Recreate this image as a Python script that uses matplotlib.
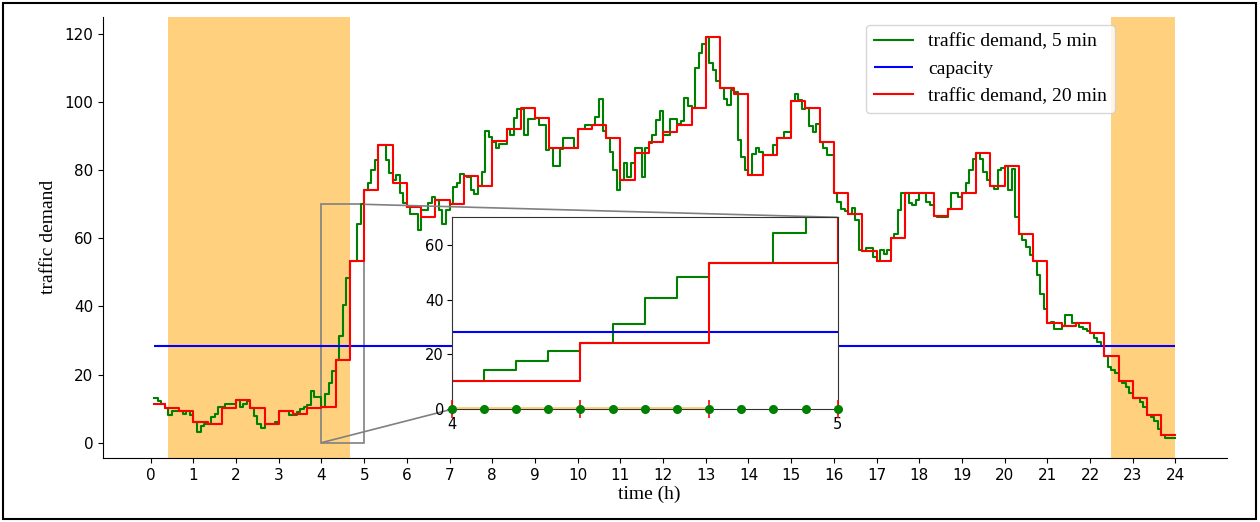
import numpy as np
import matplotlib.pyplot as plt
from matplotlib.patches import Rectangle
from mpl_toolkits.axes_grid1.inset_locator import mark_inset

# traffic demand per 5-min slot, slots from 00:05 up to 24:00
demand_5min = [
    13.1, 12.2, 11.4, 10.2, 8.1, 9.4, 9.4, 9.4, 8.4, 9.4, 8.1,
    6.0, 3.2, 5.0, 5.5, 5.5, 7.5, 8.4, 10.4, 10.4, 11.4, 11.4, 11.4,
    12.4, 10.4, 11.4, 12.2, 10.2, 7.9, 5.5, 4.4, 5.5, 5.5, 5.5, 6.2,
    9.4, 9.4, 9.4, 8.2, 8.2, 8.9, 9.9, 10.4, 11.2, 15.3, 13.3, 13.3,
    10.4, 14.2, 17.5, 21.1, 24.2, 31.2, 40.4, 48.3, 53.3, 53.3, 64.2, 70.2,
    74.1, 76.3, 80.2, 83.1, 87.4, 87.4, 83.1, 79.2, 77.0, 78.5, 73.3, 70.4,
    69.2, 67.3, 67.3, 62.4, 68.2, 68.2, 70.4, 72.2, 71.4, 68.2, 64.3, 68.2,
    70.2, 75.0, 76.3, 79.0, 78.4, 78.0, 74.1, 73.0, 75.3, 79.5, 91.4, 89.9,
    88.3, 86.4, 87.6, 87.6, 92.0, 90.3, 95.4, 98.1, 98.1, 90.3, 95.0, 95.0,
    95.4, 93.3, 93.3, 86.0, 86.5, 81.3, 81.3, 86.2, 89.4, 89.4, 89.4, 86.4,
    92.1, 92.1, 93.3, 93.3, 93.2, 95.5, 101.0, 91.4, 89.4, 85.4, 80.0, 74.1,
    77.2, 82.0, 78.0, 82.0, 86.5, 86.5, 78.0, 86.5, 88.0, 90.3, 94.7, 97.5,
    90.3, 90.3, 95.2, 95.2, 93.5, 94.4, 101.3, 98.8, 98.3, 110.0, 114.3, 117.1,
    119.2, 111.4, 109.4, 106.2, 104.3, 101.0, 99.1, 103.5, 103.0, 89.0, 84.0, 80.0,
    78.5, 84.9, 86.4, 85.4, 84.4, 84.4, 84.4, 87.3, 89.5, 89.5, 91.3, 91.3,
    100.4, 102.3, 100.5, 98.0, 98.4, 93.0, 91.3, 93.5, 88.4, 86.6, 84.4, 84.4,
    73.4, 70.7, 68.7, 68.0, 67.3, 69.0, 65.3, 56.5, 56.3, 57.3, 57.3, 54.6,
    53.5, 56.5, 55.5, 56.5, 60.2, 61.4, 68.4, 73.4, 73.4, 70.4, 69.7, 71.4,
    73.4, 73.3, 70.7, 69.7, 66.5, 66.4, 66.4, 66.4, 68.5, 73.4, 73.4, 72.2,
    73.4, 76.3, 80.0, 83.3, 85.1, 83.4, 79.5, 77.1, 75.4, 74.6, 80.0, 80.7,
    81.3, 74.3, 80.4, 66.3, 61.4, 59.4, 57.5, 55.0, 53.4, 49.2, 43.8, 39.4,
    35.1, 35.5, 33.4, 33.4, 34.4, 37.4, 37.4, 35.1, 35.1, 34.1, 33.4, 32.9,
    32.2, 30.8, 29.5, 28.5, 25.4, 22.2, 21.2, 20.4, 18.2, 17.5, 16.3, 14.5,
    13.1, 13.1, 11.8, 10.4, 8.2, 7.6, 6.4, 4.0, 2.2, 1.4, 1.4, 1.4,
]

# same demand aggregated to 20-min slots (00:00 .. 24:00)
demand_20min = [
    11.4, 10.2, 9.4, 6.2, 5.5, 10.2, 12.4, 10.2, 5.5, 9.4, 8.4, 10.2,
    10.4, 24.2, 53.3, 74.1, 87.4, 76.3, 69.2, 66.3, 71.4, 70.2, 78.4, 75.5,
    88.5, 92.2, 98.3, 95.4, 86.5, 86.5, 92.2, 93.2, 89.4, 77.2, 85.2, 88.4,
    91.3, 93.2, 98.3, 119.2, 104.3, 102.4, 78.5, 84.4, 89.5, 100.4, 98.4, 88.4,
    73.4, 67.3, 56.3, 53.5, 60.2, 73.4, 73.4, 66.5, 68.5, 73.4, 85.1, 75.4,
    81.3, 61.4, 53.4, 35.1, 34.4, 35.1, 32.2, 25.4, 18.2, 13.1, 8.2, 2.2,
]

capacity = 28.3
night_spans = [(5 / 12, 14 / 3), (22.5, 24.0)]
zoom_x = (4, 5)
zoom_y = (0, 70)

t5 = np.arange(1, len(demand_5min) + 2) / 12                     # slot edges, h
t20 = np.maximum(np.arange(len(demand_20min) + 1) / 3, t5[0])    # 20-min edges, h
y5 = np.append(demand_5min, demand_5min[-1])
y20 = np.append(demand_20min, demand_20min[-1])

serif = 'Liberation Serif'

fig = plt.figure(figsize=(12.6, 5.22), dpi=100)
ax = fig.add_axes([103.3 / 1260, 64 / 522, 1123.4 / 1260, 441.3 / 522])

for a, b in night_spans:
    ax.axvspan(a, b, color='orange', alpha=0.5, lw=0, zorder=0)

ax.step(t5, y5, where='post', color='green', lw=1.5, label='traffic demand, 5 min')
ax.hlines(capacity, t5[0], t5[-1], color='blue', lw=1.5, label='capacity')
ax.step(t20, y20, where='post', color='red', lw=1.5, label='traffic demand, 20 min')

ax.set_xlim(-1.11, 25.2)
ax.set_ylim(-4.5, 125.1)
ax.set_xticks(range(0, 25))
ax.set_yticks(range(0, 121, 20))
ax.tick_params(labelsize=11)
ax.spines['top'].set_visible(False)
ax.spines['right'].set_visible(False)

ax.set_xlabel('time (h)', fontfamily=serif, fontsize=14)
ax.set_ylabel('traffic demand', fontfamily=serif, fontsize=14)
ax.xaxis.set_label_coords(0.4858, -0.062)
ax.yaxis.set_label_coords(-0.041, 0.5)

ax.legend(loc='upper right', bbox_to_anchor=(1115 / 1260, 497 / 522),
          bbox_transform=fig.transFigure, borderaxespad=0,
          prop={'family': serif, 'size': 14})

# zoomed view of the morning ramp-up
axins = fig.add_axes([451.7 / 1260, 112.7 / 522, 386 / 1260, 192 / 522])
axins.fill_between([night_spans[0][0], night_spans[0][1]], 0, 1.0,
                   color='orange', alpha=0.5, lw=0, zorder=0)
axins.step(t5, y5, where='post', color='green', lw=1.5)
axins.hlines(capacity, t5[0], t5[-1], color='blue', lw=1.5)
axins.step(t20, y20, where='post', color='red', lw=1.5)

in5 = t5[(t5 >= zoom_x[0] - 1e-9) & (t5 <= zoom_x[1] + 1e-9)]
in20 = t20[(t20 >= zoom_x[0] - 1e-9) & (t20 <= zoom_x[1] + 1e-9)]
axins.plot(in20, np.zeros_like(in20), '|', color='red', ms=13, mew=1.2, clip_on=False, zorder=4)
axins.plot(in5, np.zeros_like(in5), 'o', color='green', ms=5.5, clip_on=False, zorder=5)

axins.set_xlim(*zoom_x)
axins.set_ylim(*zoom_y)
axins.set_xticks(list(zoom_x))
axins.set_yticks(range(0, 61, 20))
axins.tick_params(labelsize=10.5, pad=2)
for s in axins.spines.values():
    s.set_color('0.2')

mark_inset(ax, axins, loc1=1, loc2=3, fc='none', ec='0.5', lw=1.2)

fig.add_artist(Rectangle((3 / 1260, 3 / 522), 1253 / 1260, 516 / 522,
                         transform=fig.transFigure, fill=False, ec='black', lw=1.5))

fig.savefig('out.png', dpi=100)
